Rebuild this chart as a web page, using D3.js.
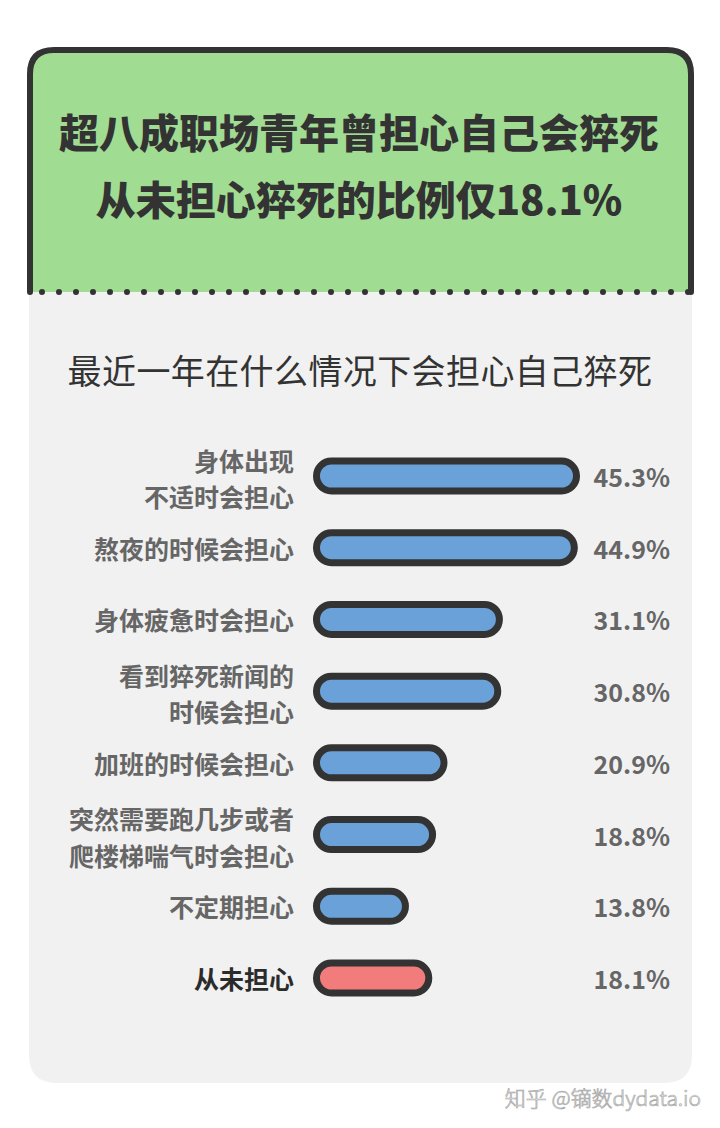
<!DOCTYPE html>
<html>
<head>
<meta charset="utf-8">
<script src="https://cdn.jsdelivr.net/npm/d3@7"></script>
<style>
  html, body { margin: 0; padding: 0; background: #ffffff; }
  svg { display: block; }
</style>
</head>
<body>
<svg id="chart" width="720" height="1128"></svg>
<script>
// ---- data ----
const titleLines = ["超八成职场青年曾担心自己会猝死", "从未担心猝死的比例仅18.1%"];
const subtitle = "最近一年在什么情况下会担心自己猝死";
const categories = [
  ["身体出现", "不适时会担心"],
  ["熬夜的时候会担心"],
  ["身体疲惫时会担心"],
  ["看到猝死新闻的", "时候会担心"],
  ["加班的时候会担心"],
  ["突然需要跑几步或者", "爬楼梯喘气时会担心"],
  ["不定期担心"],
  ["从未担心"]
];
const values = [45.3, 44.9, 31.1, 30.8, 20.9, 18.8, 13.8, 18.1];
const highlight = [false, false, false, false, false, false, false, true];
const valueLabels = ["45.3%", "44.9%", "31.1%", "30.8%", "20.9%", "18.8%", "13.8%", "18.1%"];
const watermark = "知乎 @镝数dydata.io";

// ---- drawing ----
const svg = d3.select("#chart");
const FONT = "'Noto Sans CJK SC', 'Noto Sans', sans-serif";
const dark = "#333333";

const boxL = 30, boxR = 691, boxT = 50, boxMid = 292, boxB = 1083;

// gray panel
const r2 = 28;
svg.append("path")
  .attr("d", `M${boxL - 1},${boxMid} L${boxR + 1},${boxMid} L${boxR + 1},${boxB - r2} Q${boxR + 1},${boxB} ${boxR + 1 - r2},${boxB} L${boxL - 1 + r2},${boxB} Q${boxL - 1},${boxB} ${boxL - 1},${boxB - r2} Z`)
  .attr("fill", "#f1f1f1");

// green header
const r1 = 24;
svg.append("path")
  .attr("d", `M${boxL},${boxMid} L${boxL},${boxT + r1} Q${boxL},${boxT} ${boxL + r1},${boxT} L${boxR - r1},${boxT} Q${boxR},${boxT} ${boxR},${boxT + r1} L${boxR},${boxMid} Z`)
  .attr("fill", "#a0dc92");
svg.append("path")
  .attr("d", `M${boxL},${boxMid} L${boxL},${boxT + r1} Q${boxL},${boxT} ${boxL + r1},${boxT} L${boxR - r1},${boxT} Q${boxR},${boxT} ${boxR},${boxT + r1} L${boxR},${boxMid}`)
  .attr("fill", "none")
  .attr("stroke", dark)
  .attr("stroke-width", 6)
  .attr("stroke-linecap", "round")
  .attr("stroke-linejoin", "round");
// dotted separator
svg.append("line")
  .attr("x1", boxL + 12).attr("x2", boxR)
  .attr("y1", boxMid).attr("y2", boxMid)
  .attr("stroke", dark)
  .attr("stroke-width", 6)
  .attr("stroke-linecap", "round")
  .attr("stroke-dasharray", "0 17");

// title
svg.append("g").selectAll("text")
  .data(titleLines)
  .join("text")
  .attr("x", 359)
  .attr("y", (d, i) => 131 + i * 67)
  .attr("text-anchor", "middle")
  .attr("dominant-baseline", "central")
  .attr("font-family", FONT)
  .attr("font-weight", 900)
  .attr("font-size", 40)
  .attr("fill", "#333333")
  .text(d => d);

// subtitle
svg.append("text")
  .attr("x", 360)
  .attr("y", 369)
  .attr("text-anchor", "middle")
  .attr("dominant-baseline", "central")
  .attr("font-family", FONT)
  .attr("font-weight", 400)
  .attr("font-size", 34)
  .attr("letter-spacing", 0.4)
  .attr("fill", "#333333")
  .text(subtitle);

// scales
const idx = d3.range(values.length);
const y = d3.scalePoint().domain(idx).range([476, 978]);
const w = d3.scaleLinear().domain([0, 45.3]).range([21, 267]);

const barLeft = 313, barH = 37, sw = 7;

const rows = svg.append("g").selectAll("g")
  .data(idx)
  .join("g");

rows.append("rect")
  .attr("x", barLeft + sw / 2)
  .attr("y", i => y(i) - (barH - sw) / 2)
  .attr("width", i => w(values[i]) - sw)
  .attr("height", barH - sw)
  .attr("rx", (barH - sw) / 2)
  .attr("fill", i => highlight[i] ? "#f27b7c" : "#6aa1d8")
  .attr("stroke", dark)
  .attr("stroke-width", sw);

// category labels (one text element per line)
rows.each(function (i) {
  const lines = categories[i];
  const lh = 36.5;
  const c = lines.length > 1 ? y(i) + 2 : y(i);
  d3.select(this).selectAll("text.cat")
    .data(lines)
    .join("text")
    .attr("class", "cat")
    .attr("x", 294)
    .attr("y", (ln, k) => c + (k - (lines.length - 1) / 2) * lh)
    .attr("text-anchor", "end")
    .attr("dominant-baseline", "central")
    .attr("font-family", FONT)
    .attr("font-weight", 700)
    .attr("font-size", 25)
    .attr("fill", highlight[i] ? "#2b2b2b" : "#666666")
    .text(ln => ln);
});

// value labels
rows.append("text")
  .attr("x", 670)
  .attr("y", i => y(i))
  .attr("text-anchor", "end")
  .attr("dominant-baseline", "central")
  .attr("font-family", FONT)
  .attr("font-weight", 700)
  .attr("font-size", 25)
  .attr("fill", "#666666")
  .text(i => valueLabels[i]);

// watermark
svg.append("text")
  .attr("x", 701)
  .attr("y", 1097)
  .attr("text-anchor", "end")
  .attr("dominant-baseline", "central")
  .attr("font-family", FONT)
  .attr("font-weight", 300)
  .attr("font-size", 21)
  .attr("fill", "#f6f6f6")
  .attr("stroke", "#a8a8a8")
  .attr("stroke-width", 0.7)
  .text(watermark);
</script>
</body>
</html>
